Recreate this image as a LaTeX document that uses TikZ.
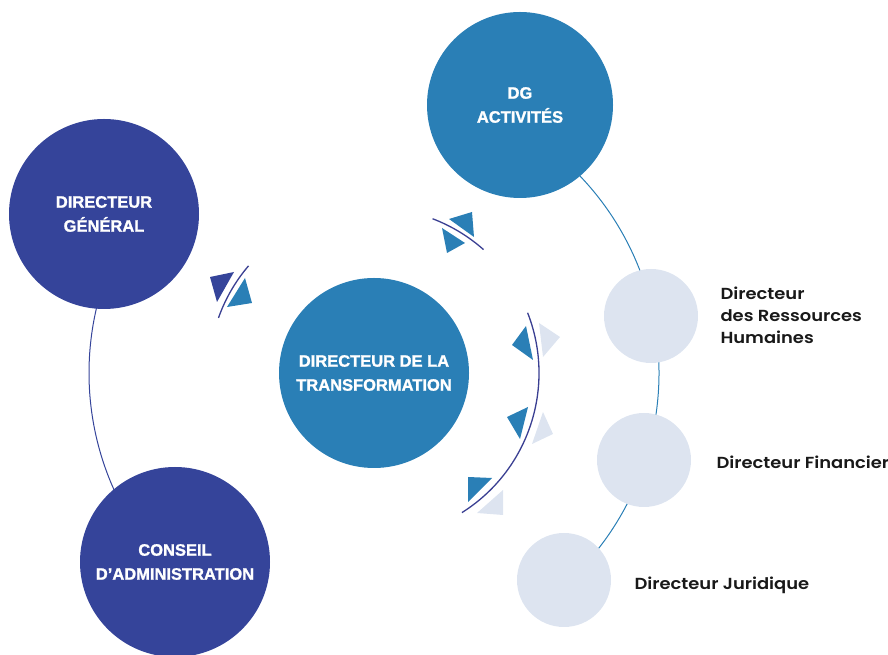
\documentclass[tikz,border=0pt]{standalone}
\usepackage{fontspec}
\setmainfont{Liberation Sans}
\newfontfamily\circfont{Liberation Sans Bold}[FakeBold=1.3]
\newfontfamily\lblfont{Poppins SemiBold}[FakeStretch=1.12]
\definecolor{navy}{HTML}{35449A}
\definecolor{midblue}{HTML}{2A7FB6}
\definecolor{pale}{HTML}{DDE4F0}
\definecolor{linenavy}{HTML}{3A3F92}
\begin{document}
\begin{tikzpicture}[x=1pt,y=1pt,
  bigcirc/.style={circle,minimum size=#1,inner sep=0pt,align=center,text=white,
     font=\circfont\fontsize{16.5}{24}\selectfont},
  navycirc/.style={bigcirc=190pt,fill=navy},
  bluecirc/.style={bigcirc=#1,fill=midblue},
  palecirc/.style={circle,minimum size=94pt,inner sep=0pt,fill=pale},
  lbl/.style={anchor=west,align=left,text=black!90,font=\lblfont\fontsize{16}{22}\selectfont},
  tri/.style={fill=#1,draw=none},
  halo/.style={draw=white,line width=4.5pt},
  thin/.style={draw=linenavy,line width=1.3pt}]
\useasboundingbox (0,0) rectangle (888,655);
\clip (0,0) rectangle (888,655);
\coordinate (T) at (374,282);
% big background arcs
\draw[navy,line width=1pt] ([shift={(148:285)}]T) arc[start angle=148,end angle=212,radius=285pt];
\draw[midblue,line width=1pt] ([shift={(50:285)}]T) arc[start angle=50,end angle=-45,radius=285pt];
% circles
\node[navycirc] (dg) at (104,441) {DIRECTEUR\\GÉNÉRAL};
\node[navycirc] (ca) at (175,93) {CONSEIL\\D’ADMINISTRATION};
\node[bluecirc=186pt] (dga) at (520,550) {DG\\ACTIVITÉS};
\node[bluecirc=190pt] (dt) at (374,282) {DIRECTEUR DE LA\\TRANSFORMATION};
\node[palecirc] (drh) at (651,339) {};
\node[palecirc] (df) at (644,195) {};
\node[palecirc] (dj) at (564,75) {};
% labels
\node[lbl] (ldrh) at (717,340) {Directeur\\des Ressources\\Humaines};
\node[lbl] (ldf) at (713,193) {Directeur Financier};
\node[lbl] (ldj) at (631,70) {Directeur Juridique};
% left triangles
\fill[tri=navy] (210,378) -- (234,383) -- (217,353) -- cycle;
\fill[tri=midblue] (245,377) -- (252,352) -- (227,348) -- cycle;
% top triangles
\fill[tri=midblue] (449,436) -- (472,443) -- (474,418) -- cycle;
\fill[tri=midblue] (442,427) -- (465,412) -- (447,402) -- cycle;
% right triangles
\fill[tri=midblue] (526,329) -- (533,295) -- (512,310) -- cycle;
\fill[tri=pale] (539,332) -- (560,318) -- (543,298) -- cycle;
\fill[tri=midblue] (507,238) -- (528,248) -- (520,216) -- cycle;
\fill[tri=pale] (543,243) -- (553,221) -- (532,211) -- cycle;
\fill[tri=midblue] (468,178) -- (492,177) -- (468,153) -- cycle;
\fill[tri=pale] (503,165) -- (503,140) -- (477,142) -- cycle;
% small arcs with halo
\foreach \a/\b in {139.5/160.5, 48.4/69.2, 21.4/-57.8}{
  \draw[halo] ([shift={(\a:165)}]T) arc[start angle=\a,end angle=\b,radius=165pt];
  \draw[thin] ([shift={(\a:165)}]T) arc[start angle=\a,end angle=\b,radius=165pt];
}
\end{tikzpicture}
\end{document}
